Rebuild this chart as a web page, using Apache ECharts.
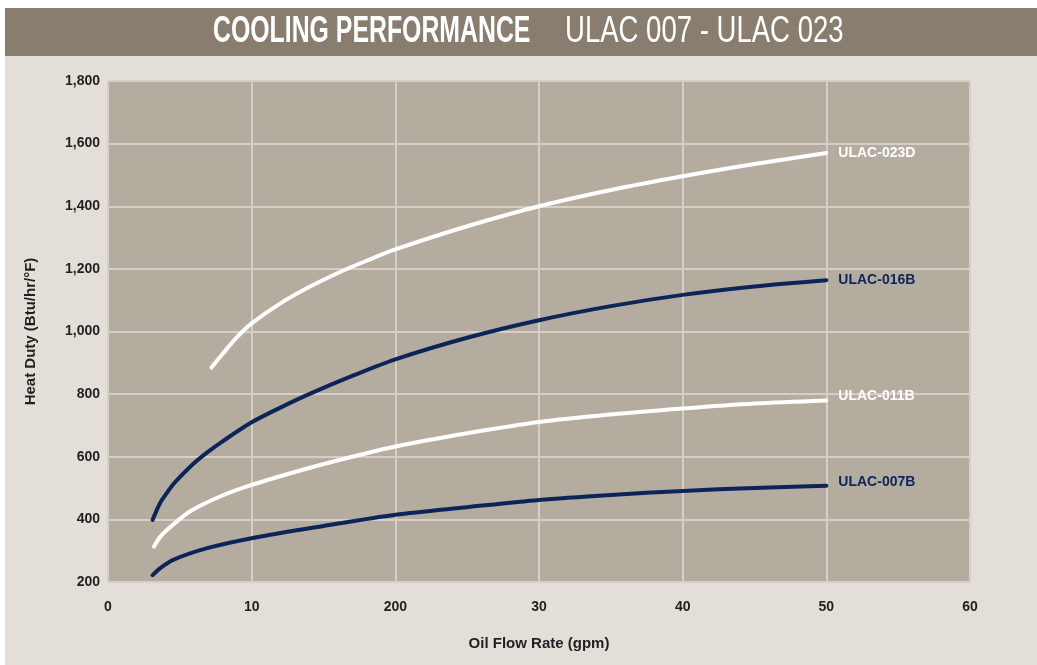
<!DOCTYPE html>
<html>
<head>
<meta charset="utf-8">
<script src="https://cdn.jsdelivr.net/npm/echarts@6/dist/echarts.min.js"></script>
<style>
html,body{margin:0;padding:0;background:#ffffff;}
#chart{width:1037px;height:665px;}
</style>
</head>
<body>
<div id="chart"></div>
<script>
// ---- data ----
const titleBold = 'COOLING PERFORMANCE';
const titleRegular = 'ULAC 007 - ULAC 023';
const xAxisName = 'Oil Flow Rate (gpm)';
const yAxisName = 'Heat Duty (Btu/hr/°F)';
const xTickLabels = ['0', '10', '200', '30', '40', '50', '60'];
const seriesNames = ['ULAC-023D', 'ULAC-016B', 'ULAC-011B', 'ULAC-007B'];

const x023 = [7.2, 8, 9, 10, 12, 14, 16, 18, 20, 25, 30, 35, 40, 45, 50];
const y023 = [885, 930, 983, 1026, 1090, 1142, 1187, 1226, 1262, 1336, 1400, 1452, 1496, 1535, 1570];

const x016 = [3.1, 3.6, 4, 4.5, 5, 6, 7, 8, 10, 12, 14, 17, 20, 25, 30, 35, 40, 45, 50];
const y016 = [398, 450, 478, 510, 535, 580, 617, 650, 710, 757, 800, 858, 911, 980, 1036, 1081, 1117, 1144, 1164];

const x011 = [3.2, 3.6, 4.1, 5.7, 7.8, 10, 14, 17, 20, 25, 30, 35, 40, 45, 50];
const y011 = [313, 342, 366, 425, 473, 510, 564, 600, 633, 675, 711, 735, 754, 770, 780];

const x007 = [3.1, 3.6, 4.5, 6.9, 10, 15, 20, 25, 30, 35, 40, 45, 50];
const y007 = [222, 243, 270, 308, 340, 379, 415, 439, 462, 478, 491, 500, 507];

// ---- styles ----
const NAVY = '#0b2559';
const WHITE = '#ffffff';
const FONT = "'Liberation Sans', Arial, sans-serif";

function pairs(xs, ys) { return xs.map((x, i) => [x, ys[i]]); }

function lineSeries(name, xs, ys, color, labelOffset) {
  return {
    name: name,
    type: 'line',
    data: pairs(xs, ys),
    smooth: 0.3,
    showSymbol: false,
    symbol: 'none',
    lineStyle: { color: color, width: 4, cap: 'round', join: 'round' },
    itemStyle: { color: color },
    endLabel: {
      show: true,
      formatter: '{a}',
      color: color,
      fontFamily: FONT,
      fontWeight: 'bold',
      fontSize: 14,
      distance: 12,
      offset: labelOffset || [0, 0]
    },
    emphasis: { disabled: true },
    animation: false
  };
}

const chart = echarts.init(document.getElementById('chart'), null, { renderer: 'canvas' });

chart.setOption({
  backgroundColor: '#ffffff',
  animation: false,
  graphic: [
    { type: 'rect', z: -10, shape: { x: 5, y: 56, width: 1032, height: 609 }, style: { fill: '#e3ded7' } },
    { type: 'rect', z: -10, shape: { x: 5, y: 8, width: 1032, height: 48 }, style: { fill: '#897d6f' } },
    { type: 'text', x: 213, y: 32, scaleX: 0.69, z: 10,
      style: { text: titleBold, fill: '#ffffff', font: "bold 36px " + FONT, textVerticalAlign: 'middle', textAlign: 'left' } },
    { type: 'text', x: 565, y: 32, scaleX: 0.765, z: 10,
      style: { text: titleRegular, fill: '#ffffff', font: "36px " + FONT, textVerticalAlign: 'middle', textAlign: 'left' } }
  ],
  grid: { left: 108, right: 67, top: 81, bottom: 83, show: true, backgroundColor: '#b5aca0', borderWidth: 0 },
  xAxis: {
    type: 'value', min: 0, max: 60, interval: 10,
    name: xAxisName, nameLocation: 'middle', nameGap: 54,
    nameTextStyle: { color: '#231f20', fontFamily: FONT, fontWeight: 'bold', fontSize: 15 },
    axisLine: { show: false }, axisTick: { show: false },
    axisLabel: { color: '#231f20', fontFamily: FONT, fontWeight: 'bold', fontSize: 14, margin: 18,
      formatter: v => xTickLabels[Math.round(v / 10)] },
    splitLine: { show: true, lineStyle: { color: '#d6cfc7', width: 2 } }
  },
  yAxis: {
    type: 'value', min: 200, max: 1800, interval: 200,
    name: yAxisName, nameLocation: 'middle', nameGap: 70, nameRotate: 90,
    nameTextStyle: { color: '#231f20', fontFamily: FONT, fontWeight: 'bold', fontSize: 15 },
    axisLine: { show: false }, axisTick: { show: false },
    axisLabel: { color: '#231f20', fontFamily: FONT, fontWeight: 'bold', fontSize: 14, margin: 8,
      formatter: v => v.toLocaleString('en-US') },
    splitLine: { show: true, lineStyle: { color: '#d6cfc7', width: 2 } }
  },
  series: [
    lineSeries(seriesNames[0], x023, y023, WHITE),
    lineSeries(seriesNames[1], x016, y016, NAVY),
    lineSeries(seriesNames[2], x011, y011, WHITE, [0, -4]),
    lineSeries(seriesNames[3], x007, y007, NAVY, [0, -4])
  ]
});
</script>
</body>
</html>
